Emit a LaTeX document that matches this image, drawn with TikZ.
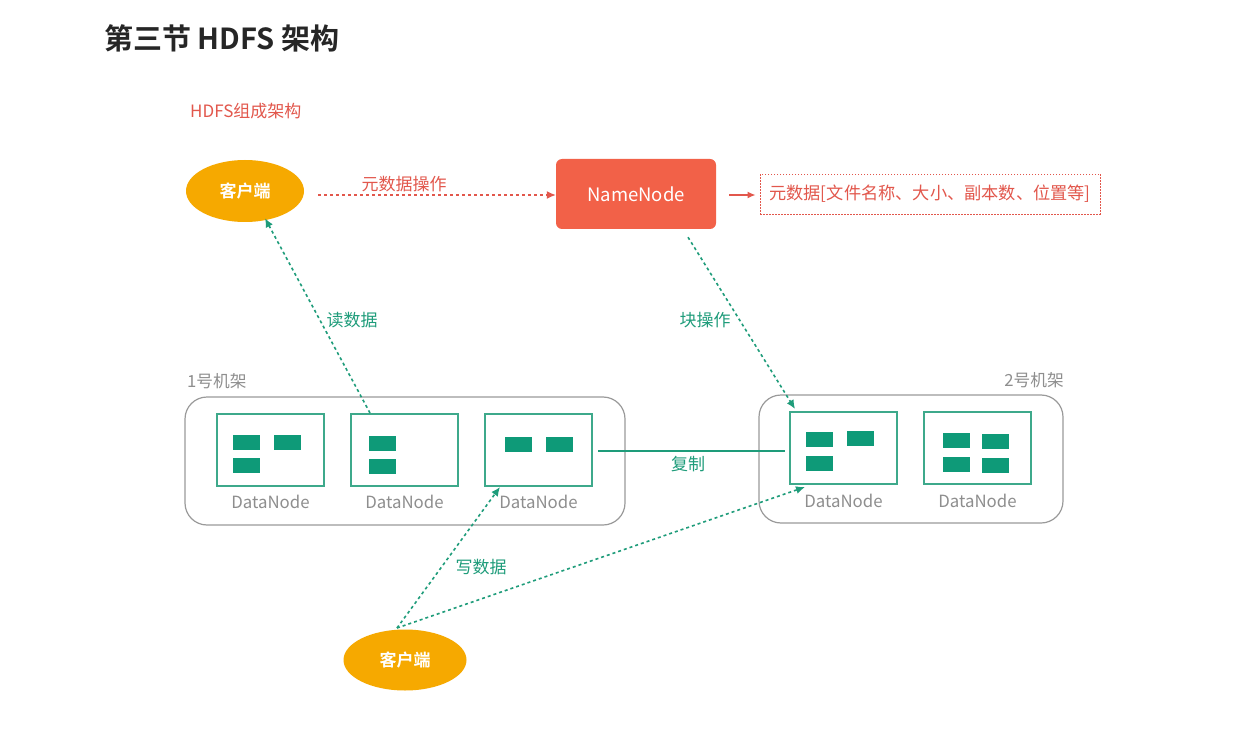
\documentclass[tikz,border=0pt]{standalone}
\usepackage{fontspec}
\setmainfont{Noto Sans CJK SC}
\newfontfamily\cjkb{Noto Sans CJK SC Bold}
\usetikzlibrary{arrows.meta,calc,shapes.geometric}
\definecolor{tred}{HTML}{E2574C}
\definecolor{nnred}{HTML}{F26148}
\definecolor{orng}{HTML}{F6A900}
\definecolor{tgreen}{HTML}{1E9C7A}
\definecolor{blkg}{HTML}{0E9A78}
\definecolor{dng}{HTML}{3EA98B}
\definecolor{rackg}{HTML}{9A9A9A}
\definecolor{txtg}{HTML}{8E8E8E}
\begin{document}
\begin{tikzpicture}[x=1pt,y=-1pt,
  client/.style={ellipse,fill=orng,draw=none,minimum width=118pt,minimum height=62pt,text=white,font=\cjkb\fontsize{17}{17}\selectfont},
  dnbox/.style={rectangle,draw=dng,line width=1.2pt,minimum width=107pt,minimum height=72pt,inner sep=0pt,outer sep=0pt},
  blk/.style={rectangle,fill=blkg,draw=none,minimum width=27pt,minimum height=15pt,inner sep=0pt},
  dnlabel/.style={text=txtg,font=\fontsize{16.8}{17}\selectfont,inner sep=0pt},
  rack/.style={rectangle,draw=rackg,line width=1.2pt,rounded corners=22pt,inner sep=0pt},
  racklabel/.style={text=txtg,font=\fontsize{16.7}{17}\selectfont,inner sep=0pt},
  grlabel/.style={text=tgreen,font=\fontsize{17}{17}\selectfont,inner sep=0pt},
  rdlabel/.style={text=tred,font=\fontsize{17}{17}\selectfont,inner sep=0pt},
  garrow/.style={draw=tgreen,line width=1.6pt,dash pattern=on 3pt off 3pt,-{Latex[length=9pt,width=8pt]}},
]
\useasboundingbox (0,0) rectangle (1258,730);
\fill[white] (0,0) rectangle (1258,730);

% title
\node[anchor=west,inner sep=0pt,font=\cjkb\fontsize{29}{29}\selectfont,text=black!85] (title) at (104,38) {第三节 HDFS 架构};
\node[anchor=west,rdlabel] (sub) at (190,111) {HDFS组成架构};

% top client and namenode
\node[client] (c1) at (245,191) {客户端};
\node[rectangle,rounded corners=6pt,fill=nnred,minimum width=160pt,minimum height=70pt,text=white,font=\fontsize{18.5}{18.5}\selectfont] (nn) at (636,194) {NameNode};
\node[rectangle,draw=tred,dash pattern=on 1.5pt off 1.5pt,line width=0.8pt,minimum width=340pt,minimum height=40pt,text=tred,font=\fontsize{17.2}{17.2}\selectfont,inner sep=0pt] (meta) at (930,194) {元数据[文件名称、大小、副本数、位置等]};

\coordinate (c1r) at (318,195);
\draw[draw=tred,line width=1.3pt,dash pattern=on 3pt off 3pt,-{Latex[length=9pt,width=8pt]}] (c1r) -- (nn.west |- c1r) coordinate (nnl);
\node[rdlabel] (l1) at (404,184) {元数据操作};
\draw[draw=tred,line width=1.5pt,-{Latex[length=8pt,width=7pt]}] ($(nn.east)+(13,1)$) -- ($(meta.west)+(-4,1)$);

% racks
\node[rack,minimum width=440pt,minimum height=128pt] (rack1) at (405,461) {};
\node[rack,minimum width=304pt,minimum height=128pt] (rack2) at (911,459) {};
\node[racklabel,anchor=west] (rl1) at (187,381) {1号机架};
\node[racklabel,anchor=east] (rl2) at (1064,380) {2号机架};

% datanodes rack 1
\node[dnbox] (d1) at (270.5,450) {};
\node[dnbox] (d2) at (404.5,450) {};
\node[dnbox] (d3) at (538.5,450) {};
% datanodes rack 2
\node[dnbox] (d4) at (843.5,448) {};
\node[dnbox] (d5) at (977.5,448) {};

\foreach \n/\x in {d1/270.5,d2/404.5,d3/538.5}{
  \node[dnlabel] (\n l) at (\x,502) {DataNode};
}
\foreach \n/\x in {d4/843.5,d5/977.5}{
  \node[dnlabel] (\n l) at (\x,501) {DataNode};
}

% blocks
\node[blk] (b11) at (246.5,442) {};
\node[blk] (b12) at (287.5,442) {};
\node[blk] (b13) at (246.5,465) {};
\node[blk] (b21) at (382.5,443.5) {};
\node[blk] (b22) at (382.5,466.5) {};
\node[blk] (b31) at (518.5,444) {};
\node[blk] (b32) at (559.5,444) {};
\node[blk] (b41) at (819.5,439.5) {};
\node[blk] (b42) at (860,438.5) {};
\node[blk] (b43) at (819.5,463.5) {};
\node[blk] (b51) at (956,440.5) {};
\node[blk] (b52) at (995,441.5) {};
\node[blk] (b53) at (956,464.5) {};
\node[blk] (b54) at (995,465.5) {};

% replication line
\draw[draw=tgreen,line width=1.5pt] ($(d3.east)+(6,1)$) -- ($(d4.west)+(-5,3)$);
\node[grlabel] (l4) at (688,464) {复制};

% read data
\draw[garrow] ($(d2.north west)+(19,-1)$) -- ($(c1.south)+(20,-4)$);
\node[grlabel] (l2) at (352,320) {读数据};

% block ops
\draw[garrow] ($(nn.south)+(52,8)$) -- ($(d4.north west)+(5,-3)$);
\node[grlabel] (l3) at (705,320) {块操作};

% bottom client and write data
\node[client,minimum width=123pt,minimum height=61pt] (c2) at (405,660) {客户端};
\coordinate (c2t) at (397,628);
\draw[garrow] (c2t) -- ($(d3.south west)+(15,1)$);
\draw[garrow] (c2t) -- ($(d4.south west)+(15,3)$);
\node[grlabel] (l5) at (481,567) {写数据};
\end{tikzpicture}
\end{document}
